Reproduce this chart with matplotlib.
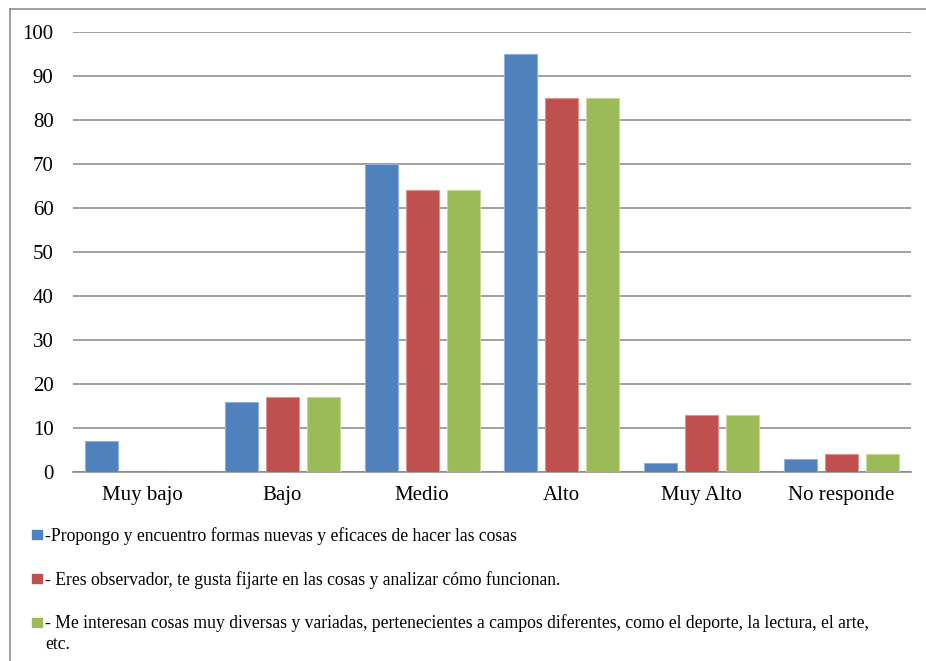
import matplotlib.pyplot as plt
import numpy as np
from matplotlib.patches import Rectangle
from matplotlib.lines import Line2D

categories = ['Muy bajo', 'Bajo', 'Medio', 'Alto', 'Muy Alto', 'No responde']
serie_propongo = [7, 16, 70, 95, 2, 3]
serie_observador = [0, 17, 64, 85, 13, 4]
serie_intereses = [0, 17, 64, 85, 13, 4]
labels = [
    '-Propongo y encuentro formas nuevas y eficaces de hacer las cosas',
    '- Eres observador, te gusta fijarte en las cosas y analizar cómo funcionan.',
    '- Me interesan cosas muy diversas y variadas, pertenecientes a campos diferentes, como el deporte, la lectura, el arte,\netc.',
]
colors = ['#4F81BD', '#C0504D', '#9BBB59']
edges = ['#8FB0DA', '#DC9491', '#C3D89B']
y_ticks = list(range(0, 101, 10))

plt.rcParams['font.family'] = ['Liberation Serif', 'DejaVu Serif']

fig = plt.figure(figsize=(9.26, 6.61), dpi=100)
ax = fig.add_axes([73 / 926, 1 - 472 / 661, 838 / 926, 440 / 661])

x = np.arange(len(categories))
w = 0.236
step = 0.293
series = [serie_propongo, serie_observador, serie_intereses]
for i, vals in enumerate(series):
    ax.bar(x + (i - 1) * step, vals, width=w, color=colors[i],
           edgecolor=edges[i], linewidth=0.8, zorder=3)

ax.set_xlim(-0.5, len(categories) - 0.5)
ax.set_ylim(0, 100)
ax.set_yticks(y_ticks)
ax.set_xticks(x)
ax.set_xticklabels(categories)
ax.tick_params(axis='both', length=0, labelsize=15, colors='black')
ax.tick_params(axis='y', pad=14)
ax.tick_params(axis='x', pad=10)
ax.yaxis.grid(True, color='#868686', linewidth=1.1, zorder=0)
for s in ['top', 'right', 'left']:
    ax.spines[s].set_visible(False)
ax.spines['bottom'].set_color('#868686')
ax.spines['bottom'].set_linewidth(1.1)

# legend drawn by hand, stacked under the plot
rows_y = [534.5, 578.5, 622]
for i, lab in enumerate(labels):
    yy = rows_y[i]
    fig.patches.append(Rectangle((32 / 926, 1 - (yy + 4.5) / 661), 10 / 926, 9 / 661,
                                 transform=fig.transFigure, color=colors[i]))
    fig.text(45 / 926, 1 - (yy - 7.5) / 661, lab, fontsize=12.7, va='top', ha='left',
             linespacing=1.25)

# outer border (top and left visible)
fig.add_artist(Line2D([9.5 / 926, 9.5 / 926], [0, 1 - 9 / 661], color='#868686',
                      linewidth=1.1, transform=fig.transFigure))
fig.add_artist(Line2D([9.5 / 926, 1], [1 - 9 / 661, 1 - 9 / 661], color='#868686',
                      linewidth=1.1, transform=fig.transFigure))

fig.savefig('out.png', dpi=100)
